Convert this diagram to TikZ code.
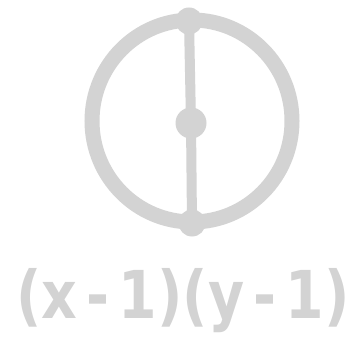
\documentclass[tikz,border=0pt]{standalone}
\usepackage{fontspec}
\setmainfont{DejaVu Sans}
\definecolor{chalk}{HTML}{D3D3D3}
\tikzset{
  ink/.style={draw=chalk, line cap=round},
  dot/.style={circle, fill=chalk, inner sep=0pt, minimum size=#1},
}
\begin{document}
\begin{tikzpicture}[x=1pt,y=-1pt]
  \useasboundingbox (0,0) rectangle (356,363);
  \draw[ink, line width=15pt] (192,121) ellipse [x radius=100, y radius=101];
  \node[dot=27pt] (top) at (189,21) {};
  \node[dot=31pt] (mid) at (191,123) {};
  \node[dot=27pt] (bot) at (192,223) {};
  \draw[ink, line width=10pt] (top.center) -- (mid.center) -- (bot.center);
  \node[text=chalk, inner sep=0pt, xscale=0.84] (label) at (183,301)
    {\fontsize{66}{68}\selectfont\bfseries (x\,-\,1)(y\,-\,1)};
\end{tikzpicture}
\end{document}
